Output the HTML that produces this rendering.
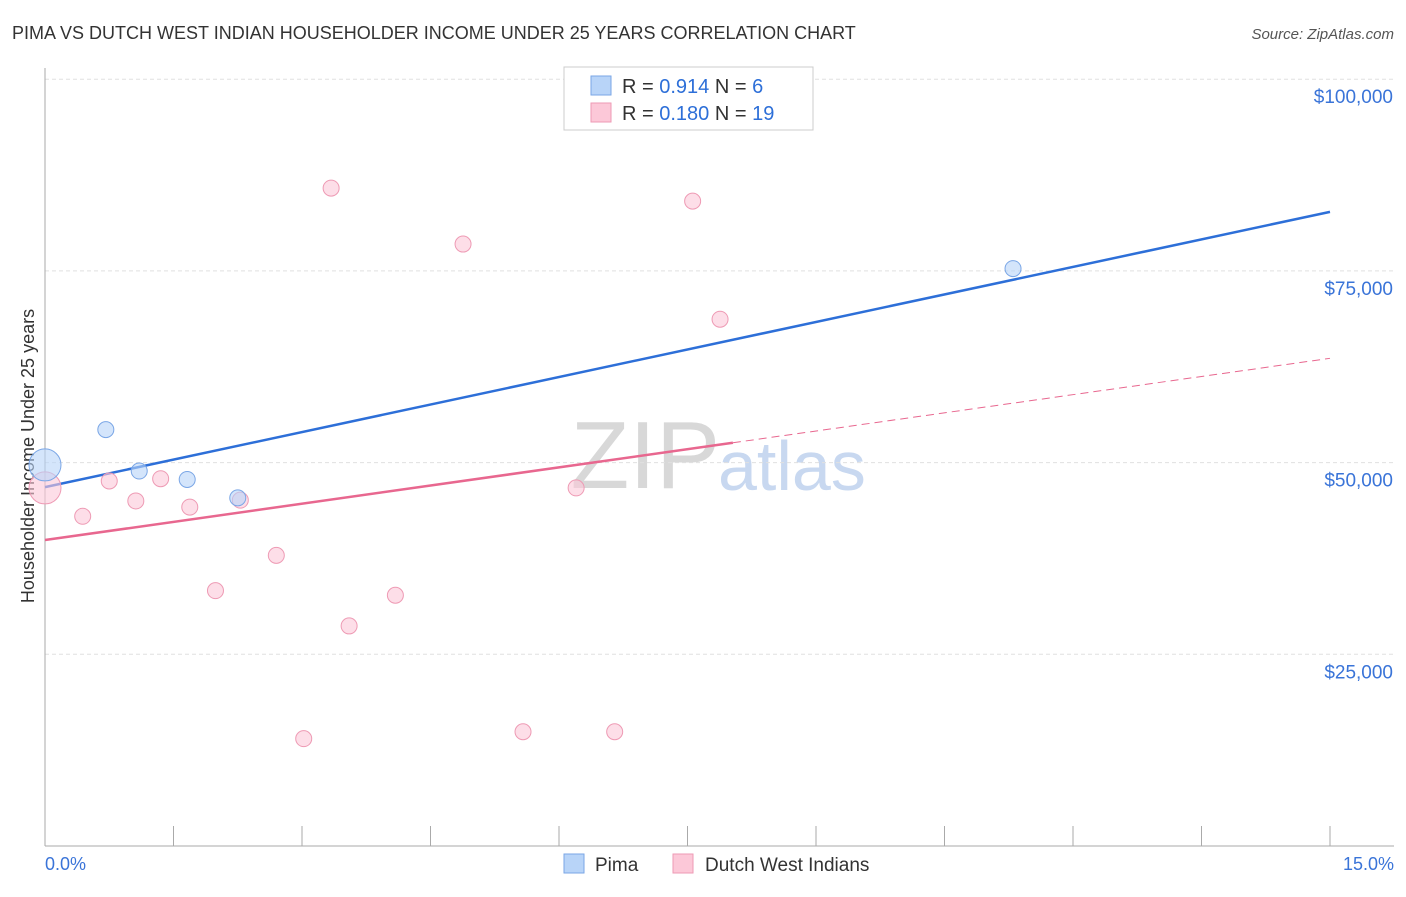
<!DOCTYPE html>
<html><head><meta charset="utf-8"><style>
body{margin:0;background:#fff;font-family:"Liberation Sans",sans-serif;}
svg text{font-family:"Liberation Sans",sans-serif;}
</style></head><body>
<svg id="c" width="1406" height="892">
<text x="12" y="39" font-size="18" fill="#333">PIMA VS DUTCH WEST INDIAN HOUSEHOLDER INCOME UNDER 25 YEARS CORRELATION CHART</text>
<text x="1394" y="39" font-size="15" fill="#555" font-style="italic" text-anchor="end">Source: ZipAtlas.com</text>
<text x="34" y="456" font-size="18" fill="#333" transform="rotate(-90 34 456)" text-anchor="middle">Householder Income Under 25 years</text>
<text x="720" y="488" font-size="96" fill="#d8d8d8" text-anchor="end" font-family="Liberation Serif">ZIP</text>
<text x="718" y="490" font-size="70" fill="#c8d8f0">atlas</text>
<g id="grid"></g><g id="axes"></g><g id="lines"></g><g id="pts"></g>
<g>
<rect x="564" y="67" width="249" height="63" fill="#fff" stroke="#ccc"/>
<rect x="591" y="76" width="20" height="19" fill="#b8d4f8" stroke="#7aa6e6"/>
<text x="622" y="93" font-size="20" fill="#333">R = <tspan fill="#2d6fd8">0.914</tspan>   N =  <tspan fill="#2d6fd8"> 6</tspan></text>
<rect x="591" y="103" width="20" height="19" fill="#fcc8d8" stroke="#ee9ab4"/>
<text x="622" y="120" font-size="20" fill="#333">R = <tspan fill="#2d6fd8">0.180</tspan>   N = <tspan fill="#2d6fd8">19</tspan></text>
</g>
<g>
<rect x="564" y="854" width="20" height="19" fill="#b8d4f8" stroke="#7aa6e6"/>
<text x="595" y="871" font-size="19" fill="#333">Pima</text>
<rect x="673" y="854" width="20" height="19" fill="#fcc8d8" stroke="#ee9ab4"/>
<text x="705" y="871" font-size="19" fill="#333">Dutch West Indians</text>
</g>
<text x="45" y="870" font-size="18" fill="#3a74d8">0.0%</text>
<text x="1394" y="870" font-size="18" fill="#3a74d8" text-anchor="end">15.0%</text>
</svg>
<script>
const pimaX=[0,0.71,1.10,1.66,2.25,11.30];
const pimaY=[49700,54300,48900,47800,45400,75300];
const dutchX=[0,0.44,0.75,1.06,1.35,1.69,1.99,2.28,2.70,3.02,3.34,3.55,4.09,4.88,5.58,6.20,6.65,7.56,7.88];
const dutchY=[46700,43000,47600,45000,47900,44200,33300,45100,37900,14000,85800,28700,32700,78500,14900,46700,14900,84100,68700];
const yTicks=[25000,50000,75000,100000];
const yTickLabels=["$25,000","$50,000","$75,000","$100,000"];
const pimaTrend=[46800,82700];
const dutchTrend=[39900,63600];
const dutchSolidEnd=8.03;
const NS="http://www.w3.org/2000/svg";
const X=v=>45+v/15*1285, Y=v=>846-v/25000*191.7;
function mk(tag,attrs,parent){const e=document.createElementNS(NS,tag);for(const k in attrs)e.setAttribute(k,attrs[k]);document.getElementById(parent).appendChild(e);return e;}
yTicks.forEach((t,i)=>{
 const l=mk('line',{x1:45,x2:1394,y1:Y(t),y2:Y(t),stroke:'#e0e0e0','stroke-dasharray':'4,3'},'grid');
 
 
 const tx=mk('text',{x:1393,y:Y(t)+24,'font-size':19,fill:'#3a74d8','text-anchor':'end'},'grid');
 tx.textContent=yTickLabels[i];
 
 
});
let a=mk('line',{x1:45,x2:45,y1:68,y2:846,stroke:'#aaa'},'axes');


a=mk('line',{x1:45,x2:1394,y1:846,y2:846,stroke:'#aaa'},'axes');


for(let i=0;i<=10;i++){const t=mk('line',{x1:X(i*1.5),x2:X(i*1.5),y1:826,y2:846,stroke:'#aaa'},'axes');
 
 }
const slope=(dutchTrend[1]-dutchTrend[0])/15;
let ln=mk('line',{x1:X(0),y1:Y(pimaTrend[0]),x2:X(15),y2:Y(pimaTrend[1]),stroke:'#2d6fd8','stroke-width':2.5},'lines');


ln=mk('line',{x1:X(0),y1:Y(dutchTrend[0]),x2:X(dutchSolidEnd),y2:Y(dutchTrend[0]+slope*dutchSolidEnd),stroke:'#e8678f','stroke-width':2.5},'lines');


ln=mk('line',{x1:X(dutchSolidEnd),y1:Y(dutchTrend[0]+slope*dutchSolidEnd),x2:X(15),y2:Y(dutchTrend[1]),stroke:'#e8678f','stroke-width':1,'stroke-dasharray':'8,5'},'lines');


dutchX.forEach((x,i)=>{const c=mk('circle',{cx:X(x),cy:Y(dutchY[i]),r:i==0?16:8,fill:'#fcc8d8','fill-opacity':0.6,stroke:'#ee9ab4'},'pts');
 
 });
pimaX.forEach((x,i)=>{const c=mk('circle',{cx:X(x),cy:Y(pimaY[i]),r:i==0?16:8,fill:'#b8d4f8','fill-opacity':0.6,stroke:'#7aa6e6'},'pts');
 
 });
</script>
</body></html>
